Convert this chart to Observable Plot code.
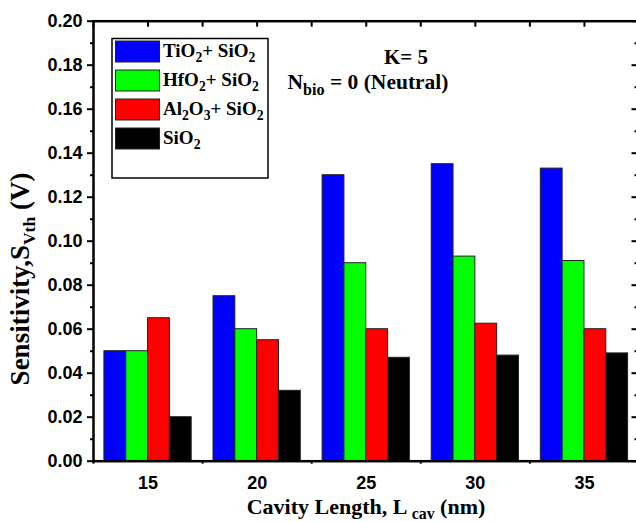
<!DOCTYPE html>
<html>
<head>
<meta charset="utf-8">
<script src="https://cdn.jsdelivr.net/npm/d3@7"></script>
<script src="https://cdn.jsdelivr.net/npm/@observablehq/plot@0.6"></script>
<style>
  html, body { margin: 0; padding: 0; background: white; }
  svg { display: block; overflow: visible; }
  .serif-text, .serif-text tspan { font-family: "Liberation Serif", "DejaVu Serif", serif; font-weight: bold; }
</style>
</head>
<body>
<div id="chart"></div>
<script>
// ---- data ----
const cavityLengths = [15, 20, 25, 30, 35];
const seriesNames = ["TiO2+ SiO2", "HfO2+ SiO2", "Al2O3+ SiO2", "SiO2"];
const seriesColors = ["#0000ff", "#00ff00", "#ff0000", "#000000"];
const tio2Values = [0.050, 0.075, 0.130, 0.135, 0.133];
const hfo2Values = [0.050, 0.060, 0.090, 0.093, 0.091];
const al2o3Values = [0.065, 0.055, 0.060, 0.0625, 0.060];
const sio2Values = [0.020, 0.032, 0.047, 0.048, 0.049];
const yMajorTicks = [0, 0.02, 0.04, 0.06, 0.08, 0.10, 0.12, 0.14, 0.16, 0.18, 0.20];
const yMinorTicks = [0.01, 0.03, 0.05, 0.07, 0.09, 0.11, 0.13, 0.15, 0.17, 0.19];
const xMinorTicks = [12.5, 17.5, 22.5, 27.5, 32.5, 37.5];
// legend labels as [text, subscript] parts
const legendParts = [
  [["TiO", false], ["2", true], ["+ SiO", false], ["2", true]],
  [["HfO", false], ["2", true], ["+ SiO", false], ["2", true]],
  [["Al", false], ["2", true], ["O", false], ["3", true], ["+ SiO", false], ["2", true]],
  [["SiO", false], ["2", true]]
];
const annotationLine1 = [["K= 5", false]];
const annotationLine2 = [["N", false], ["bio", true], [" = 0 (Neutral)", false]];
const xLabelParts = [["Cavity Length, L ", false], ["cav", true], [" (nm)", false]];
const yLabelParts = [["Sensitivity,S", false], ["Vth", true], [" (V)", false]];

const allValues = [tio2Values, hfo2Values, al2o3Values, sio2Values];
const rows = [];
allValues.forEach((vals, s) => {
  vals.forEach((v, i) => {
    rows.push({cat: cavityLengths[i], s, series: seriesNames[s], v});
  });
});

const W = 636, H = 522;
const mL = 93, mT = 20.7, mB = 61.3, mR = -2.5;
const frameW = W - mL - mR;

const tickFont = "Liberation Sans, Arial, sans-serif";

const plot = Plot.plot({
  width: W,
  height: H,
  marginLeft: mL,
  marginTop: mT,
  marginBottom: mB,
  marginRight: mR,
  style: {background: "white", overflow: "visible"},
  x: {domain: [12.5, 37.5]},
  y: {domain: [0, 0.2]},
  color: {domain: seriesNames, range: seriesColors},
  marks: [
    Plot.rectY(rows, {
      x1: d => d.cat - 2 + d.s,
      x2: d => d.cat - 1 + d.s,
      y: "v",
      fill: "series",
      stroke: "#222",
      strokeWidth: 1
    }),
    // left axis
    Plot.axisY({ticks: yMajorTicks, tickSize: 6, tickPadding: 5, tickFormat: d3.format(".2f"),
      fontSize: 18, fontWeight: "bold", fontFamily: tickFont, strokeWidth: 2, label: null, fill: "black"}),
    Plot.axisY({ticks: yMinorTicks, tickSize: 3, tickFormat: () => "", strokeWidth: 2, label: null}),
    // bottom axis
    Plot.axisX({ticks: cavityLengths, tickSize: 0, tickPadding: 15, tickFormat: d3.format("d"),
      fontSize: 18, fontWeight: "bold", fontFamily: tickFont, label: null, fill: "black"}),
    Plot.axisX({ticks: xMinorTicks, tickSize: 3, tickFormat: () => "", strokeWidth: 2, label: null}),
    // top inward ticks
    Plot.ruleX([...cavityLengths, ...xMinorTicks], {x: d => d, insetBottom: (H - mT - mB) - 6, strokeWidth: 2}),
    // right inward ticks
    Plot.ruleY(yMajorTicks, {y: d => d, insetLeft: frameW - 7, strokeWidth: 2}),
    Plot.ruleY(yMinorTicks, {y: d => d, insetLeft: frameW - 4, strokeWidth: 2}),
    Plot.frame({stroke: "black", strokeWidth: 2.5})
  ]
});

document.getElementById("chart").appendChild(plot);

const svg = d3.select(plot);

function richText(g, x, y, parts, size, anchor, opts = {}) {
  const subScale = opts.subScale || 0.7;
  const drop = opts.drop || size * 0.3;
  const t = g.append("text")
    .attr("class", "serif-text")
    .attr("x", x).attr("y", y)
    .style("font-size", size + "px")
    .attr("fill", "black")
    .attr("text-anchor", anchor || "start");
  if (opts.transform) t.attr("transform", opts.transform);
  let shifted = false;
  parts.forEach(([txt, sub]) => {
    const ts = t.append("tspan").text(txt);
    if (sub) ts.style("font-size", (size * subScale) + "px");
    if (sub && !shifted) { ts.attr("dy", drop); shifted = true; }
    else if (!sub && shifted) { ts.attr("dy", -drop); shifted = false; }
  });
  return t;
}

// legend
const lg = svg.append("g");
lg.append("rect").attr("x", 112).attr("y", 38.5).attr("width", 156).attr("height", 139.5)
  .attr("fill", "white").attr("stroke", "black").attr("stroke-width", 1.5);
seriesNames.forEach((name, i) => {
  const y0 = 41 + i * 29;
  lg.append("rect").attr("x", 115.5).attr("y", y0).attr("width", 44).attr("height", 21)
    .attr("fill", seriesColors[i]).attr("stroke", "#222").attr("stroke-width", 1);
  richText(lg, 163, y0 + 15.5, legendParts[i], 19, "start", {subScale: 0.72, drop: 5});
});

// annotations
richText(svg, 406, 64, annotationLine1, 21, "middle");
richText(svg, 368, 89, annotationLine2, 21.5, "middle", {subScale: 0.75, drop: 6});

// axis titles
richText(svg, 366, 514, xLabelParts, 22, "middle", {subScale: 0.72, drop: 5});
richText(svg, 0, 0, yLabelParts, 27, "middle", {subScale: 0.65, drop: 6, transform: "translate(29,279) rotate(-90)"});
</script>
</body>
</html>
